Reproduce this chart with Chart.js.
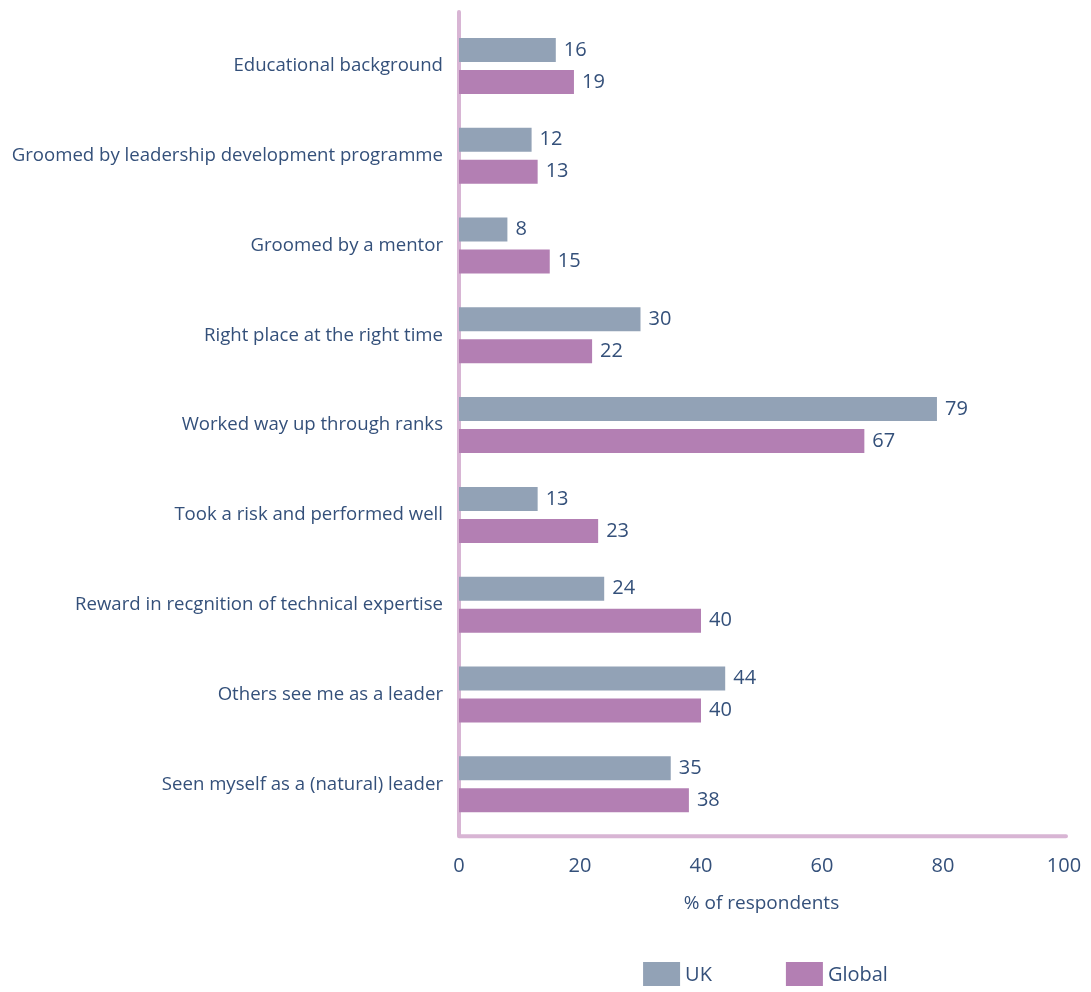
<!DOCTYPE html>
<html>
<head>
<meta charset="utf-8">
<script src="https://cdn.jsdelivr.net/npm/chart.js@4/dist/chart.umd.min.js"></script>
<style>
  html, body { margin: 0; padding: 0; background: #fff; }
  #wrap { width: 1091px; height: 992px; }
</style>
</head>
<body>
<div id="wrap"><canvas id="chart"></canvas></div>
<script>
// chart data
const categories = [
    'Educational background',
    'Groomed by leadership development programme',
    'Groomed by a mentor',
    'Right place at the right time',
    'Worked way up through ranks',
    'Took a risk and performed well',
    'Reward in recgnition of technical expertise',
    'Others see me as a leader',
    'Seen myself as a (natural) leader'
];
const ukValues = [16, 12, 8, 30, 79, 13, 24, 44, 35];
const globalValues = [19, 13, 15, 22, 67, 23, 40, 40, 38];
const xTicks = [0, 20, 40, 60, 80, 100];

const textColor = '#34507a';
const axisColor = '#d8b5d4';
const fontFamily = "'Open Sans', sans-serif";

// value labels at the end of each bar
const valueLabels = {
    id: 'valueLabels',
    afterDatasetsDraw(chart) {
        const ctx = chart.ctx;
        ctx.save();
        ctx.font = `20px ${fontFamily}`;
        ctx.fillStyle = textColor;
        ctx.textBaseline = 'middle';
        ctx.textAlign = 'left';
        chart.data.datasets.forEach((ds, i) => {
            chart.getDatasetMeta(i).data.forEach((bar, j) => {
                ctx.fillText(ds.data[j], bar.x + 8, bar.y);
            });
        });
        ctx.restore();
    }
};

// rounded axis lines
const axisLines = {
    id: 'axisLines',
    beforeDatasetsDraw(chart) {
        const { ctx, chartArea } = chart;
        ctx.save();
        ctx.strokeStyle = axisColor;
        ctx.lineWidth = 4;
        ctx.lineCap = 'round';
        ctx.lineJoin = 'round';
        ctx.beginPath();
        ctx.moveTo(chartArea.left, chartArea.top - 9);
        ctx.lineTo(chartArea.left, chartArea.bottom + 7);
        ctx.lineTo(chartArea.right + 2, chartArea.bottom + 7);
        ctx.stroke();
        ctx.restore();
    }
};

// legend under the plot, centred on the plot area
const bottomLegend = {
    id: 'bottomLegend',
    afterDraw(chart) {
        const { ctx, chartArea } = chart;
        const boxW = 37, boxH = 24, textGap = 5, itemGap = 74;
        ctx.save();
        ctx.font = `20px ${fontFamily}`;
        ctx.textBaseline = 'middle';
        ctx.textAlign = 'left';
        const items = chart.data.datasets.map(ds => ({
            text: ds.label,
            color: ds.backgroundColor,
            w: boxW + textGap + ctx.measureText(ds.label).width
        }));
        const total = items.reduce((s, it) => s + it.w, 0) + itemGap * (items.length - 1);
        let x = (chartArea.left + chartArea.right) / 2 + 4 - total / 2;
        const y = chart.height - 18;
        items.forEach(it => {
            ctx.fillStyle = it.color;
            ctx.fillRect(x, y - boxH / 2, boxW, boxH);
            ctx.fillStyle = textColor;
            ctx.fillText(it.text, x + boxW + textGap, y + 1);
            x += it.w + itemGap;
        });
        ctx.restore();
    }
};

const ctx = document.getElementById('chart').getContext('2d');
new Chart(ctx, {
    type: 'bar',
    data: {
        labels: categories,
        datasets: [{
            label: 'UK',
            data: ukValues,
            backgroundColor: '#92a2b6',
            barPercentage: 0.75,
            categoryPercentage: 0.713
        }, {
            label: 'Global',
            data: globalValues,
            backgroundColor: '#b37fb3',
            barPercentage: 0.75,
            categoryPercentage: 0.713
        }]
    },
    plugins: [axisLines, valueLabels, bottomLegend],
    options: {
        indexAxis: 'y',
        responsive: true,
        maintainAspectRatio: false,
        animation: false,
        layout: { padding: { top: 21, right: 27, bottom: 77, left: 0 } },
        scales: {
            x: {
                min: 0,
                max: 100,
                afterBuildTicks: (axis) => { axis.ticks = xTicks.map(v => ({ value: v })); },
                afterFit: (axis) => { axis.paddingRight = 0; axis.paddingLeft = 0; },
                grid: { display: false, drawTicks: false },
                border: { display: false },
                ticks: {
                    color: textColor,
                    font: { family: fontFamily, size: 20 },
                    padding: 25
                },
                title: {
                    display: true,
                    text: '% of respondents',
                    color: textColor,
                    font: { family: fontFamily, size: 19 },
                    padding: { top: -11, bottom: 0 }
                }
            },
            y: {
                afterFit: (axis) => {
                    axis.width = 459;
                    axis.paddingTop = 0;
                    axis.paddingBottom = 0;
                },
                grid: { display: false, drawTicks: false },
                border: { display: false },
                ticks: {
                    color: textColor,
                    font: { family: fontFamily, size: 18.6 },
                    padding: 16
                }
            }
        },
        plugins: {
            legend: { display: false },
            tooltip: { enabled: false }
        }
    }
});
</script>
</body>
</html>
